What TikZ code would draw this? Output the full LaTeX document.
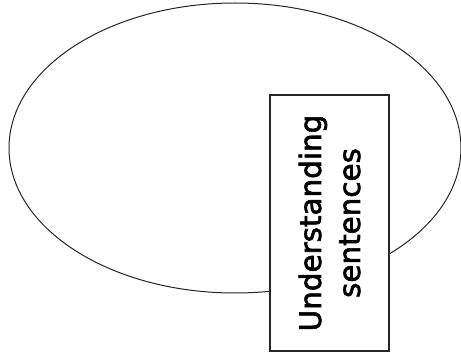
\documentclass[tikz,border=0pt]{standalone}
\usepackage{fontspec}
\setmainfont{DejaVu Sans}
\newfontfamily\labelfont{DejaVu Sans}[FakeBold=2.2]
\tikzset{
  outline/.style={draw=black!85, line width=1pt},
  labelbox/.style={draw=black!85, line width=1.3pt, fill=white, rectangle, inner sep=0pt,
    align=center, font=\labelfont\fontsize{29.4}{39}\selectfont}
}
\begin{document}
\begin{tikzpicture}[x=1pt,y=-1pt]
\useasboundingbox (0,0) rectangle (461,358);
\draw[outline] (235,148) ellipse [x radius=226, y radius=145];
\node[labelbox, rotate=90, minimum width=256pt, minimum height=119pt] (box) at (329.5,223) {Understanding\\sentences};
\end{tikzpicture}
\end{document}
